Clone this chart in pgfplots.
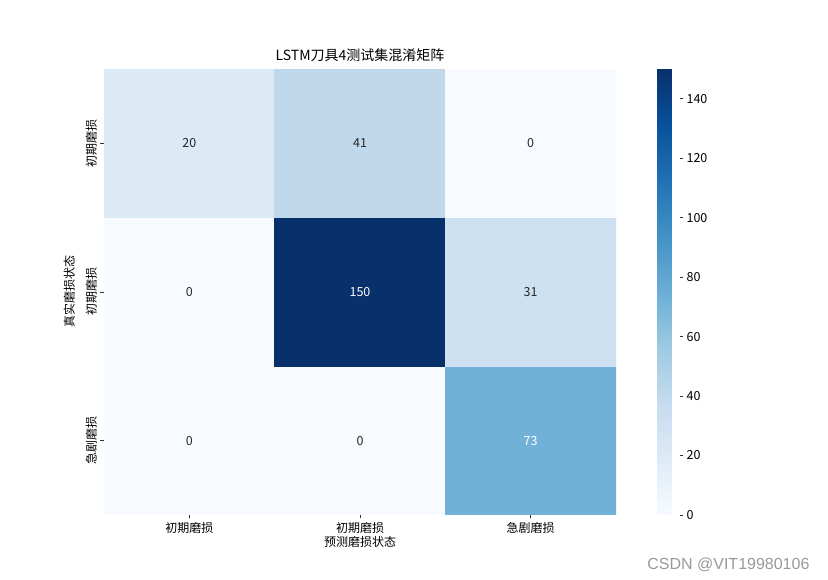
\documentclass[border=0pt]{standalone}
\usepackage{pgfplots}
\pgfplotsset{compat=1.18}
\usepackage{pgfplotstable}
\usepackage{fontspec}
\setmainfont{Noto Sans CJK SC}
\newfontfamily\wmfont{Liberation Sans}

% matplotlib "Blues"
\pgfplotsset{colormap={blues}{
  rgb255(0)=(247,251,255) rgb255(1)=(222,235,247) rgb255(2)=(198,219,239)
  rgb255(3)=(158,202,225) rgb255(4)=(107,174,214) rgb255(5)=(66,146,198)
  rgb255(6)=(33,113,181) rgb255(7)=(8,81,156) rgb255(8)=(8,48,107)}}

% confusion matrix, y=2 is the top row
\pgfplotstableread{
x y c
0 0 0
1 0 0
2 0 73
0 1 0
1 1 150
2 1 31
0 2 20
1 2 41
2 2 0
}\cm

\begin{document}
\begin{tikzpicture}
\path[use as bounding box] (0,0) rectangle (828pt,580pt);
\begin{axis}[
    at={(104pt,65pt)}, anchor=south west,
    scale only axis, width=512pt, height=446pt,
    xmin=-0.5, xmax=2.5, ymin=-0.5, ymax=2.5,
    colormap name=blues,
    point meta min=0, point meta max=150,
    axis line style={draw=none},
    tick align=outside,
    major tick length=3.5pt,
    tick style={black!80, line width=0.6pt},
    xtick={0,1,2}, ytick={0,1,2},
    xtick pos=left, ytick pos=left,
    xticklabels={初期磨损,初期磨损,急剧磨损},
    yticklabels={急剧磨损,初期磨损,初期磨损},
    ticklabel style={font=\fontsize{12}{14}\selectfont},
    yticklabel style={rotate=90, anchor=south},
    xlabel={预测磨损状态},
    ylabel={真实磨损状态},
    label style={font=\fontsize{12}{14}\selectfont},
    ylabel style={at={(axis description cs:-0.05,0.5)}, anchor=south, rotate=0},
    xlabel style={yshift=4pt},
    title={LSTM刀具4测试集混淆矩阵},
    title style={font=\fontsize{14}{16}\selectfont, yshift=-2pt},
    colorbar,
    colorbar style={
        at={(parent axis.north east)}, anchor=north west, xshift=33pt,
        width=22pt,
        ytick={0,20,...,140},
        axis line style={draw=none},
        tick align=outside,
        major tick length=3.5pt,
        tick style={black!80, line width=0.6pt},
        ytick pos=right, yticklabel pos=right,
        /pgf/number format/assume math mode=true,
        yticklabel style={font=\fontsize{12.5}{14}\selectfont},
    },
]
\addplot[matrix plot*, mesh/cols=3, point meta=explicit] table[meta=c] {\cm};

% annotations, dark text
\addplot[only marks, mark=none, nodes near coords, point meta=explicit symbolic,
    nodes near coords align=center,
    nodes near coords style={text=black!85, font=\fontsize{12.5}{14}\selectfont}]
    table[meta=c] {
x y c
0 0 0
1 0 0
0 1 0
2 1 31
0 2 20
1 2 41
2 2 0
};
% annotations, light text
\addplot[only marks, mark=none, nodes near coords, point meta=explicit symbolic,
    nodes near coords align=center,
    nodes near coords style={text=white, font=\fontsize{12.5}{14}\selectfont}]
    table[meta=c] {
x y c
2 0 73
1 1 150
};
\end{axis}
\node[anchor=east, text=black!40, font=\wmfont\fontsize{16}{18}\selectfont] at (813pt,15pt) {CSDN @VIT19980106};
\end{tikzpicture}
\end{document}
